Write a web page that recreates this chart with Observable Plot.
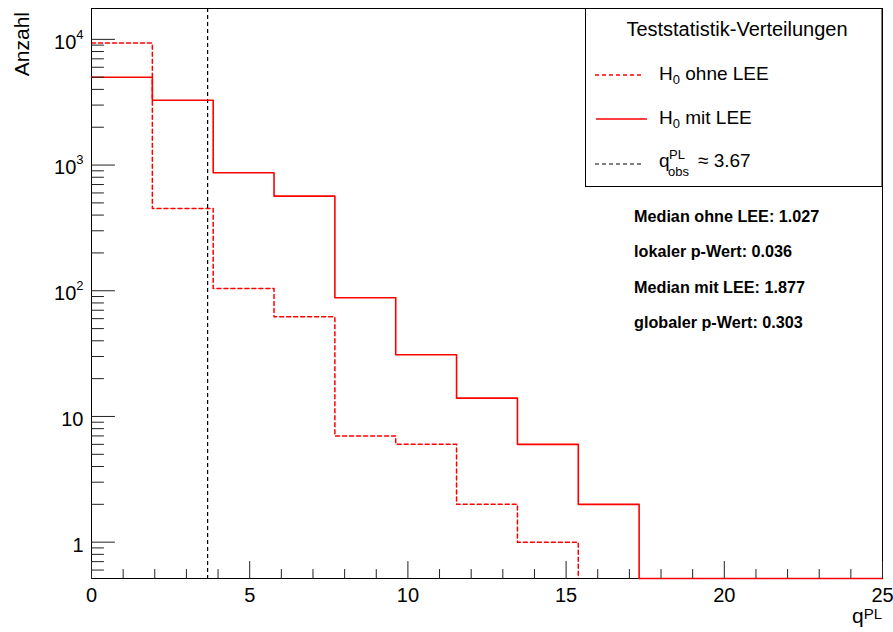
<!DOCTYPE html>
<html>
<head>
<meta charset="utf-8">
<script src="https://cdn.jsdelivr.net/npm/d3@7"></script>
<script src="https://cdn.jsdelivr.net/npm/@observablehq/plot@0.6"></script>
<style>
  html, body { margin: 0; padding: 0; background: #fff; }
  #chart svg { display: block; }
</style>
</head>
<body>
<div id="chart"></div>
<script>
// ---------- data ----------
const binEdges = [0, 1.923, 3.846, 5.769, 7.692, 9.615, 11.538, 13.462, 15.385, 17.308, 19.231, 21.154, 23.077, 25];
const countsOhneLEE = [9350, 451, 104, 62, 7, 6, 2, 1, 0, 0, 0, 0, 0];
const countsMitLEE  = [5000, 3280, 868, 566, 88, 31, 14, 6, 2, 0, 0, 0, 0];
const qObs = 3.67;

const yDomain = [0.514, 17600];
const xDomain = [0, 25];

const yMajorTicks = [1, 10, 100, 1000, 10000];
const yTickLabels = ["1", "10", "10^2", "10^3", "10^4"];
const yMinorTicks = [0.6, 0.7, 0.8, 0.9,
  2, 3, 4, 5, 6, 7, 8, 9,
  20, 30, 40, 50, 60, 70, 80, 90,
  200, 300, 400, 500, 600, 700, 800, 900,
  2000, 3000, 4000, 5000, 6000, 7000, 8000, 9000];
const xMajorTicks = [0, 5, 10, 15, 20, 25];
const xMinorTicks = [1, 2, 3, 4, 6, 7, 8, 9, 11, 12, 13, 14, 16, 17, 18, 19, 21, 22, 23, 24];

const legendTitle = "Teststatistik-Verteilungen";
const legendLabels = ["ohne LEE", "mit LEE"];
const annotations = ["Median ohne LEE: 1.027", "lokaler p-Wert: 0.036", "Median mit LEE: 1.877", "globaler p-Wert: 0.303"];

// ---------- build step outlines ----------
function steps(counts, alongBottom) {
  const pts = [];
  const floor = yDomain[0];
  for (let i = 0; i < counts.length; i++) {
    if (counts[i] === 0 && !alongBottom) { pts.push({x: binEdges[i], y: floor}); return pts; }
    pts.push({x: binEdges[i], y: counts[i] > 0 ? counts[i] : floor});
  }
  pts.push({x: binEdges[counts.length], y: counts[counts.length - 1] > 0 ? counts[counts.length - 1] : floor});
  return pts;
}
const ohnePts = steps(countsOhneLEE, false);
const mitPts = steps(countsMitLEE, true);

const tickShape = { draw(ctx, l) { ctx.moveTo(0, 0); ctx.lineTo(0, -l); } };
const FONT = "'Liberation Sans', Arial, Helvetica, sans-serif";

const svg = Plot.plot({
  width: 893,
  height: 632,
  marginLeft: 91,
  marginRight: 11,
  marginTop: 8,
  marginBottom: 54,
  style: { fontFamily: FONT, background: "#fff", color: "#000", overflow: "visible" },
  x: { domain: xDomain },
  y: { type: "log", domain: yDomain },
  marks: [
    Plot.line(ohnePts, { x: "x", y: "y", curve: "step-after", stroke: "#ff0000", strokeWidth: 1.5, strokeDasharray: "4,3" }),
    Plot.ruleX([qObs], { stroke: "#000", strokeWidth: 1.2, strokeDasharray: "4,3" }),
    Plot.frame({ stroke: "#000", strokeWidth: 1 }),
    Plot.line(mitPts, { x: "x", y: "y", curve: "step-after", stroke: "#ff0000", strokeWidth: 1.6 }),
    // inward ticks
    Plot.vector(yMajorTicks, { y: d => d, frameAnchor: "left", length: 23, rotate: 90, anchor: "start", shape: tickShape, stroke: "#222", strokeWidth: 1 }),
    Plot.vector(yMinorTicks, { y: d => d, frameAnchor: "left", length: 12, rotate: 90, anchor: "start", shape: tickShape, stroke: "#222", strokeWidth: 1 }),
    Plot.vector(xMajorTicks, { x: d => d, frameAnchor: "bottom", length: 17, rotate: 0, anchor: "start", shape: tickShape, stroke: "#222", strokeWidth: 1 }),
    Plot.vector(xMinorTicks, { x: d => d, frameAnchor: "bottom", length: 9, rotate: 0, anchor: "start", shape: tickShape, stroke: "#222", strokeWidth: 1 }),
    // tick labels
    Plot.axisY({ ticks: yMajorTicks, tickSize: 0, tickPadding: 8, dy: 3, fontSize: 20,
      tickFormat: d => yTickLabels[yMajorTicks.indexOf(d)], label: null }),
    Plot.axisX({ ticks: xMajorTicks, tickSize: 0, tickPadding: 9, fontSize: 20,
      tickFormat: d => String(d), label: null })
  ]
});

document.getElementById("chart").appendChild(svg);

const root = d3.select(svg);
// superscripts in y tick labels
root.selectAll('g[aria-label="y-axis tick label"] text').each(function () {
  const t = this.textContent;
  if (t.includes("^")) {
    const [b, e] = t.split("^");
    this.textContent = b;
    d3.select(this).append("tspan").attr("font-size", 13).attr("dy", -10).text(e);
  }
});

const ov = root.append("g").attr("font-family", FONT).attr("fill", "#000").attr("text-anchor", "start");

// axis titles
ov.append("text").attr("transform", "translate(29,12) rotate(-90)")
  .attr("text-anchor", "end").attr("font-size", 21).text("Anzahl");
const xl = ov.append("text").attr("x", 882).attr("y", 623).attr("text-anchor", "end").attr("font-size", 21);
xl.append("tspan").text("q");
xl.append("tspan").attr("font-size", 15).attr("dy", -4).text("PL");

// legend box
ov.append("rect").attr("x", 585.5).attr("y", 8.5).attr("width", 296.5).attr("height", 178)
  .attr("fill", "#fff").attr("stroke", "#000").attr("stroke-width", 1);
ov.append("text").attr("x", 737).attr("y", 36).attr("text-anchor", "middle").attr("font-size", 20).text(legendTitle);

// sample lines
ov.append("line").attr("x1", 595).attr("x2", 643).attr("y1", 75).attr("y2", 75)
  .attr("stroke", "#ff0000").attr("stroke-width", 1.5).attr("stroke-dasharray", "4,3");
ov.append("line").attr("x1", 596).attr("x2", 647).attr("y1", 119).attr("y2", 119)
  .attr("stroke", "#ff0000").attr("stroke-width", 1.6);
ov.append("line").attr("x1", 595).attr("x2", 643).attr("y1", 164).attr("y2", 164)
  .attr("stroke", "#000").attr("stroke-width", 1.2).attr("stroke-dasharray", "4,3");

[80, 124].forEach((yb, i) => {
  const t = ov.append("text").attr("x", 659).attr("y", yb).attr("font-size", 19);
  t.append("tspan").text("H");
  t.append("tspan").attr("font-size", 13).attr("dy", 4).text("0");
  t.append("tspan").attr("dy", -4).text(" " + legendLabels[i]);
});
ov.append("text").attr("x", 659).attr("y", 167).attr("font-size", 19).text("q");
ov.append("text").attr("x", 669).attr("y", 159).attr("font-size", 13).text("PL");
ov.append("text").attr("x", 668).attr("y", 176).attr("font-size", 13).text("obs");
ov.append("text").attr("x", 698).attr("y", 167).attr("font-size", 19).text("\u2248 " + qObs.toFixed(2));

// annotations
annotations.forEach((s, i) => {
  ov.append("text").attr("x", 634).attr("y", 222 + i * 35.3).attr("font-size", 16.2)
    .attr("font-weight", "bold").text(s);
});
</script>
</body>
</html>
